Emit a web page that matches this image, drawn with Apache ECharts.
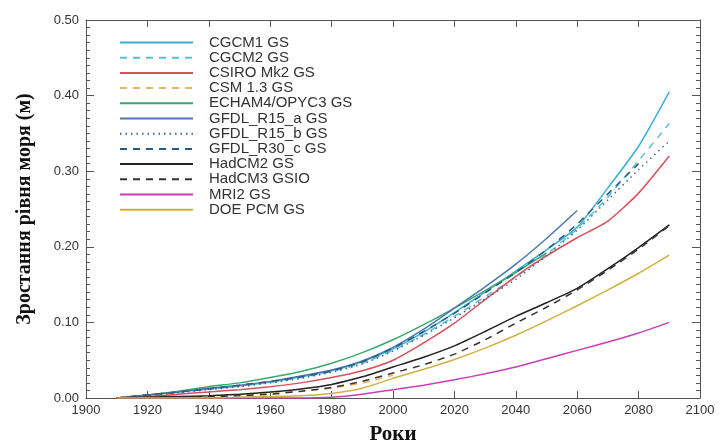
<!DOCTYPE html>
<html>
<head>
<meta charset="utf-8">
<script src="https://cdn.jsdelivr.net/npm/echarts@6/dist/echarts.min.js"></script>
<style>
  html, body { margin: 0; padding: 0; background: #fff; }
  #chart { width: 720px; height: 441px; }
</style>
</head>
<body>
<div id="chart"></div>
<script>
// Projected global mean sea-level rise (m), model runs sampled every decade
const years = [1910, 1920, 1930, 1940, 1950, 1960, 1970, 1980, 1990, 2000,
               2010, 2020, 2030, 2040, 2050, 2060, 2070, 2080, 2090];

const cgcm1   = [0, 0.004, 0.008, 0.012, 0.016, 0.021, 0.028, 0.036, 0.048, 0.065, 0.087, 0.113, 0.140, 0.168, 0.196, 0.226, 0.278, 0.333, 0.405];
const cgcm2   = [0, 0.004, 0.008, 0.012, 0.016, 0.021, 0.027, 0.035, 0.046, 0.063, 0.084, 0.108, 0.134, 0.160, 0.190, 0.224, 0.266, 0.314, 0.363];
const csiro   = [0, 0.002, 0.005, 0.008, 0.011, 0.015, 0.020, 0.027, 0.036, 0.050, 0.073, 0.099, 0.130, 0.161, 0.188, 0.212, 0.234, 0.271, 0.320];
const csm13   = [0, 0.000, 0.001, 0.002, 0.004, 0.006, 0.009, 0.013, 0.020, 0.030];
const echam4  = [0, 0.004, 0.009, 0.015, 0.020, 0.027, 0.035, 0.046, 0.060, 0.077, 0.097, 0.119, 0.142, 0.166, 0.192];
const gfdlA   = [0, 0.004, 0.008, 0.013, 0.017, 0.022, 0.029, 0.037, 0.049, 0.067, 0.091, 0.119, 0.147, 0.177, 0.211, 0.248];
const gfdlB   = [0, 0.003, 0.007, 0.011, 0.015, 0.020, 0.026, 0.034, 0.045, 0.062, 0.083, 0.106, 0.131, 0.157, 0.188, 0.222, 0.262, 0.302, 0.340];
const gfdlC   = [0, 0.004, 0.008, 0.012, 0.017, 0.022, 0.028, 0.036, 0.048, 0.066, 0.088, 0.112, 0.139, 0.166, 0.196, 0.230, 0.270, 0.310];
const hadcm2  = [0, 0.001, 0.002, 0.003, 0.005, 0.008, 0.012, 0.018, 0.028, 0.041, 0.054, 0.069, 0.088, 0.108, 0.126, 0.145, 0.171, 0.199, 0.229];
const hadcm3  = [0, 0.000, 0.001, 0.002, 0.003, 0.005, 0.009, 0.014, 0.022, 0.033, 0.044, 0.058, 0.077, 0.099, 0.120, 0.143, 0.169, 0.197, 0.228];
const mri2    = [0, 0.000, 0.000, 0.000, 0.000, 0.000, 0.000, 0.001, 0.005, 0.011, 0.017, 0.024, 0.032, 0.041, 0.052, 0.063, 0.074, 0.086, 0.100];
const doePcm  = [0, 0.000, 0.000, 0.000, 0.001, 0.002, 0.003, 0.006, 0.013, 0.026, 0.038, 0.051, 0.066, 0.083, 0.102, 0.122, 0.143, 0.165, 0.189];

const runs = [
  { name: 'CGCM1 GS',        values: cgcm1,  color: '#3bb0d4', type: 'solid'  },
  { name: 'CGCM2 GS',        values: cgcm2,  color: '#5cc0cc', type: 'dashed' },
  { name: 'CSIRO Mk2 GS',    values: csiro,  color: '#d9505a', type: 'solid'  },
  { name: 'CSM 1.3 GS',      values: csm13,  color: '#e8b660', type: 'dashed' },
  { name: 'ECHAM4/OPYC3 GS', values: echam4, color: '#3aa86a', type: 'solid'  },
  { name: 'GFDL_R15_a GS',   values: gfdlA,  color: '#4a78ac', type: 'solid'  },
  { name: 'GFDL_R15_b GS',   values: gfdlB,  color: '#3a6a8e', type: 'dotted' },
  { name: 'GFDL_R30_c GS',   values: gfdlC,  color: '#2b5a80', type: 'dashed' },
  { name: 'HadCM2 GS',       values: hadcm2, color: '#222222', type: 'solid'  },
  { name: 'HadCM3 GSIO',     values: hadcm3, color: '#333333', type: 'dashed' },
  { name: 'MRI2 GS',         values: mri2,   color: '#c83fb4', type: 'solid'  },
  { name: 'DOE PCM GS',      values: doePcm, color: '#d2b040', type: 'solid'  }
];

const axisGray = '#555';
const labelFont = { fontFamily: 'Liberation Sans, Arial, sans-serif', fontSize: 13, color: '#333' };

const chart = echarts.init(document.getElementById('chart'), null, { renderer: 'canvas' });

const series = runs.map(r => ({
  name: r.name,
  type: 'line',
  symbol: 'none',
  smooth: 0.2,
  xAxisIndex: 0,
  yAxisIndex: 0,
  data: r.values.map((v, i) => [years[i], v]),
  lineStyle: {
    color: r.color,
    width: 1.5,
    type: r.type === 'dashed' ? [7, 6] : (r.type === 'dotted' ? [1.5, 4] : 'solid')
  },
  itemStyle: { color: r.color },
  emphasis: { disabled: true }
}));

const yBase = {
  type: 'value',
  min: 0, max: 0.5, interval: 0.1,
  splitLine: { show: false },
  axisLine: { show: true, lineStyle: { color: axisGray, width: 1 } },
  axisTick: { show: true, inside: true, length: 8, lineStyle: { color: axisGray } },
  minorTick: { show: true, splitNumber: 10, length: 4, lineStyle: { color: axisGray } }
};

const xBase = {
  type: 'value',
  min: 1900, max: 2100, interval: 20,
  splitLine: { show: false },
  axisLine: { show: true, onZero: false, lineStyle: { color: axisGray, width: 1 } },
  axisTick: { show: true, inside: true, length: 7, lineStyle: { color: axisGray } }
};

chart.setOption({
  animation: false,
  backgroundColor: '#ffffff',
  grid: { left: 86, right: 20, top: 20, bottom: 43, containLabel: false, outerBoundsMode: 'none' },
  legend: {
    orient: 'vertical',
    left: 119,
    top: 35,
    padding: 0,
    itemWidth: 73,
    itemHeight: 15,
    itemGap: 0.2,
    selectedMode: false,
    itemStyle: { opacity: 0 },
    textStyle: {
      fontFamily: 'Liberation Sans, Arial, sans-serif',
      fontSize: 15,
      color: '#333',
      padding: [0, 0, 0, 11]
    },
    data: runs.map(r => r.name)
  },
  xAxis: [
    Object.assign({}, xBase, {
      position: 'bottom',
      name: 'Роки',
      nameLocation: 'middle',
      nameGap: 26,
      nameTextStyle: { fontFamily: 'Liberation Serif, Times New Roman, serif', fontWeight: 'bold', fontSize: 21, color: '#111' },
      axisLabel: Object.assign({ margin: 6, formatter: v => String(v) }, labelFont)
    }),
    Object.assign({}, xBase, {
      position: 'top',
      axisLabel: { show: false }
    })
  ],
  yAxis: [
    Object.assign({}, yBase, {
      position: 'left',
      name: 'Зростання рівня моря (м)',
      nameLocation: 'middle',
      nameGap: 51,
      nameTextStyle: { fontFamily: 'Liberation Serif, Times New Roman, serif', fontWeight: 'bold', fontSize: 20, color: '#111' },
      axisLabel: Object.assign({ margin: 7, formatter: v => v.toFixed(2) }, labelFont)
    }),
    Object.assign({}, yBase, {
      position: 'right',
      axisLabel: { show: false }
    })
  ],
  series: series
});
</script>
</body>
</html>
